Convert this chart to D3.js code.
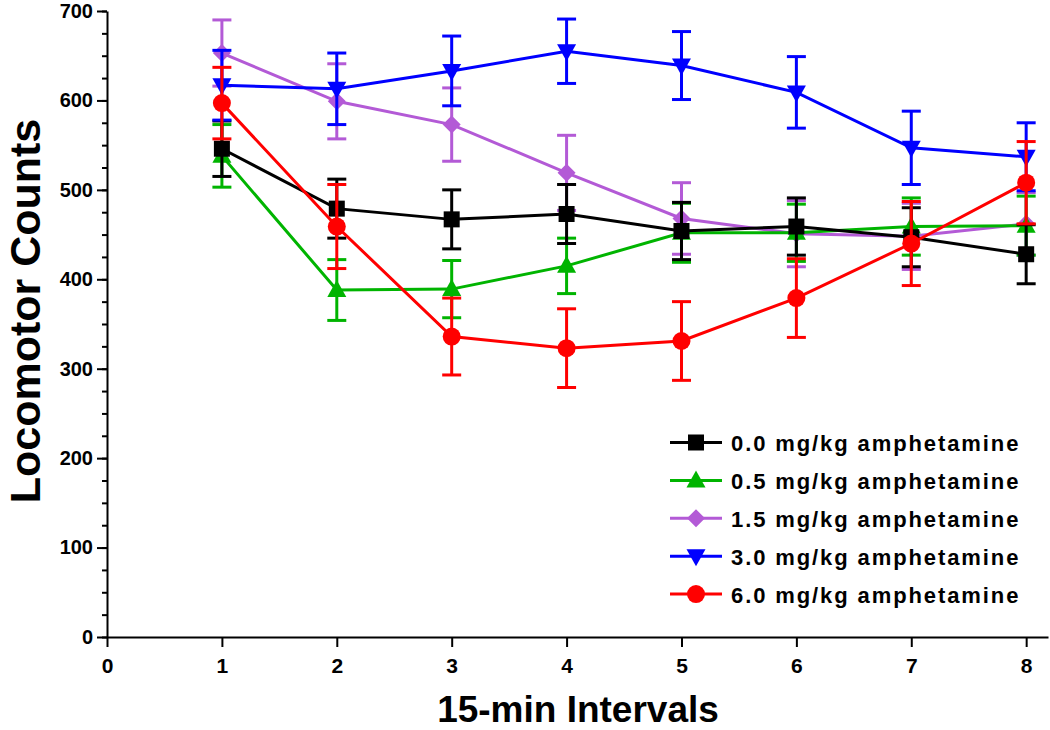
<!DOCTYPE html>
<html>
<head>
<meta charset="utf-8">
<script src="https://cdn.jsdelivr.net/npm/d3@7"></script>
<style>
  html, body { margin: 0; padding: 0; background: #fff; }
  svg { display: block; }
</style>
</head>
<body>
<svg id="chart" width="1050" height="730"></svg>
<script>
// ---- data ----
const intervals = [1, 2, 3, 4, 5, 6, 7, 8];
const xTicks = [0, 1, 2, 3, 4, 5, 6, 7, 8];
const yTicks = [0, 100, 200, 300, 400, 500, 600, 700];
const seriesNames = ["0.0 mg/kg amphetamine", "0.5 mg/kg amphetamine", "1.5 mg/kg amphetamine", "3.0 mg/kg amphetamine", "6.0 mg/kg amphetamine"];
const dose00 = [546, 479, 467, 473, 454, 459, 447, 428];
const dose00se = [31, 33, 33, 33, 32, 32, 33, 33];
const dose05 = [538, 388, 389, 415, 452, 452, 459, 460];
const dose05se = [35, 34, 32, 31, 33, 32, 32, 33];
const dose15 = [653, 599, 573, 519, 468, 451, 448, 462];
const dose15se = [37, 42, 41, 42, 40, 37, 37, 35];
const dose30 = [617, 613, 633, 655, 639, 609, 547, 537];
const dose30se = [39, 40, 39, 36, 38, 40, 41, 38];
const dose60 = [597, 459, 336, 323, 331, 379, 440, 508];
const dose60se = [40, 47, 43, 44, 44, 44, 47, 46];

const colors = ["#000000", "#00b400", "#b35ad6", "#0000ff", "#ff0000"];
const symbols = ["square", "triUp", "diamond", "triDown", "circle"];
const values = [dose00, dose05, dose15, dose30, dose60];
const errors = [dose00se, dose05se, dose15se, dose30se, dose60se];

const svg = d3.select("#chart");
const x = d3.scaleLinear().domain([0, 8.19]).range([107, 1048]);
const y = d3.scaleLinear().domain([0, 700]).range([637, 11]);

const font = "'Liberation Sans', Arial, Helvetica, sans-serif";

// ---- axes ----
const yAxisMinor = d3.axisLeft(y).tickValues(d3.range(0, 701, 25)).tickSize(5).tickFormat("");
svg.append("g").attr("transform", "translate(107,0)").call(yAxisMinor)
  .call(g => g.select(".domain").remove())
  .call(g => g.selectAll("line").attr("stroke", "#000").attr("stroke-width", 2));

const yAxis = d3.axisLeft(y).tickValues(yTicks).tickSize(10).tickSizeOuter(0).tickPadding(4);
svg.append("g").attr("transform", "translate(107,0)").call(yAxis)
  .call(g => g.select(".domain").attr("stroke", "#000").attr("stroke-width", 2))
  .call(g => g.selectAll("line").attr("stroke", "#000").attr("stroke-width", 2))
  .call(g => g.selectAll("text").attr("font-family", font).attr("font-weight", "bold")
    .attr("font-size", 20).attr("fill", "#000"));

const xAxis = d3.axisBottom(x).tickValues(xTicks).tickSize(10).tickSizeOuter(0).tickPadding(11).tickFormat(d3.format("d"));
svg.append("g").attr("transform", "translate(0,637)").call(xAxis)
  .call(g => g.select(".domain").attr("stroke", "#000").attr("stroke-width", 2))
  .call(g => g.selectAll("line").attr("stroke", "#000").attr("stroke-width", 2))
  .call(g => g.selectAll("text").attr("font-family", font).attr("font-weight", "bold")
    .attr("font-size", 21).attr("fill", "#000"));

// axis titles
svg.append("text").attr("x", 578).attr("y", 722)
  .attr("text-anchor", "middle").attr("font-family", font).attr("font-weight", "bold")
  .attr("font-size", 37)
  .text("15-min Intervals");
svg.append("text").attr("transform", "translate(40,311) rotate(-90)")
  .attr("text-anchor", "middle").attr("font-family", font).attr("font-weight", "bold")
  .attr("font-size", 43)
  .text("Locomotor Counts");

// ---- markers ----
function drawMarker(g, type, cx, cy, color) {
  if (type === "square") {
    g.append("rect").attr("x", cx - 8).attr("y", cy - 8).attr("width", 16).attr("height", 16).attr("fill", color);
  } else if (type === "circle") {
    g.append("circle").attr("cx", cx).attr("cy", cy).attr("r", 9).attr("fill", color);
  } else if (type === "triUp") {
    g.append("path").attr("d", `M${cx},${cy - 10}L${cx + 9.5},${cy + 7}L${cx - 9.5},${cy + 7}Z`).attr("fill", color);
  } else if (type === "triDown") {
    g.append("path").attr("d", `M${cx},${cy + 10}L${cx + 9.5},${cy - 7}L${cx - 9.5},${cy - 7}Z`).attr("fill", color);
  } else if (type === "diamond") {
    g.append("path").attr("d", `M${cx},${cy - 9}L${cx + 9},${cy}L${cx},${cy + 9}L${cx - 9},${cy}Z`).attr("fill", color);
  }
}

// ---- series ----
const drawOrder = [2, 1, 0, 3, 4];
const line = d3.line().x(d => x(d[0])).y(d => y(d[1]));
drawOrder.forEach(si => {
  const g = svg.append("g");
  const pts = intervals.map((t, i) => [t, values[si][i], errors[si][i]]);
  // error bars
  pts.forEach(p => {
    const cx = x(p[0]);
    g.append("line").attr("x1", cx).attr("x2", cx).attr("y1", y(p[1] - p[2])).attr("y2", y(p[1] + p[2]))
      .attr("stroke", colors[si]).attr("stroke-width", 3);
    [p[1] - p[2], p[1] + p[2]].forEach(v => {
      g.append("line").attr("x1", cx - 9.5).attr("x2", cx + 9.5).attr("y1", y(v)).attr("y2", y(v))
        .attr("stroke", colors[si]).attr("stroke-width", 3);
    });
  });
  g.append("path").datum(pts).attr("d", line).attr("fill", "none")
    .attr("stroke", colors[si]).attr("stroke-width", 3);
  pts.forEach(p => drawMarker(g, symbols[si], x(p[0]), y(p[1]), colors[si]));
});

// ---- legend ----
const legend = svg.append("g");
seriesNames.forEach((name, i) => {
  const ly = 442.5 + i * 37.9;
  legend.append("line").attr("x1", 670).attr("x2", 722).attr("y1", ly).attr("y2", ly)
    .attr("stroke", colors[i]).attr("stroke-width", 3);
  drawMarker(legend, symbols[i], 696, ly, colors[i]);
  legend.append("text").attr("x", 731).attr("y", ly + 8.5)
    .attr("font-family", font).attr("font-weight", "bold")
    .attr("font-size", 22).attr("letter-spacing", 1.9).attr("fill", "#000")
    .text(name);
});
</script>
</body>
</html>
